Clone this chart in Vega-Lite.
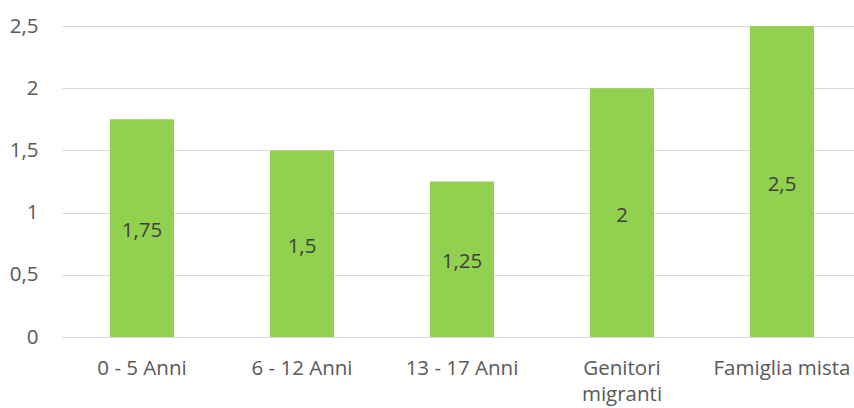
{
  "$schema": "https://vega.github.io/schema/vega-lite/v6.json",
  "autosize": "none",
  "width": 792,
  "height": 311,
  "padding": {"left": 62, "top": 26, "right": 0, "bottom": 71},
  "background": "white",
  "config": {"view": {"stroke": null}, "font": "Open Sans",
    "locale": {"number": {"decimal": ",", "thousands": ".", "grouping": [3], "currency": ["", " €"]}}},
  "data": {"values": [
    {"cat": "0 - 5 Anni", "v": 1.75},
    {"cat": "6 - 12 Anni", "v": 1.5},
    {"cat": "13 - 17 Anni", "v": 1.25},
    {"cat": "Genitori migranti", "v": 2},
    {"cat": "Famiglia mista", "v": 2.5}
  ]},
  "encoding": {
    "x": {"field": "cat", "type": "nominal", "sort": null,
      "scale": {"range": [0, 800], "paddingInner": 0.6, "paddingOuter": 0.3},
      "axis": {"title": null, "labelAngle": 0, "ticks": false, "domainColor": "#d9d9d9", "domainWidth": 1,
        "labelFontSize": 20.5, "labelColor": "#595959", "labelPadding": 21, "labelLimit": 0,
        "labelExpr": "datum.value == 'Genitori migranti' ? ['Genitori', 'migranti'] : datum.value", "labelLineHeight": 26}}
  },
  "layer": [
    {"mark": {"type": "bar", "color": "#92D050"},
     "encoding": {"y": {"field": "v", "type": "quantitative",
       "scale": {"domain": [0, 2.5], "nice": false},
       "axis": {"title": null, "values": [0, 0.5, 1, 1.5, 2, 2.5], "format": ".1~f", "ticks": false, "domain": false,
         "gridColor": "#d9d9d9", "gridWidth": 1, "labelFontSize": 20.5, "labelColor": "#595959", "labelPadding": 24}}}},
    {"mark": {"type": "text", "fontSize": 20.5, "color": "#404040", "baseline": "middle", "dy": 3},
     "encoding": {"y": {"field": "v", "type": "quantitative", "scale": {"domain": [0, 5], "nice": false}, "axis": null},
       "text": {"field": "v", "type": "quantitative", "format": ".2~f"}}}
  ],
  "resolve": {"scale": {"y": "independent"}}
}
